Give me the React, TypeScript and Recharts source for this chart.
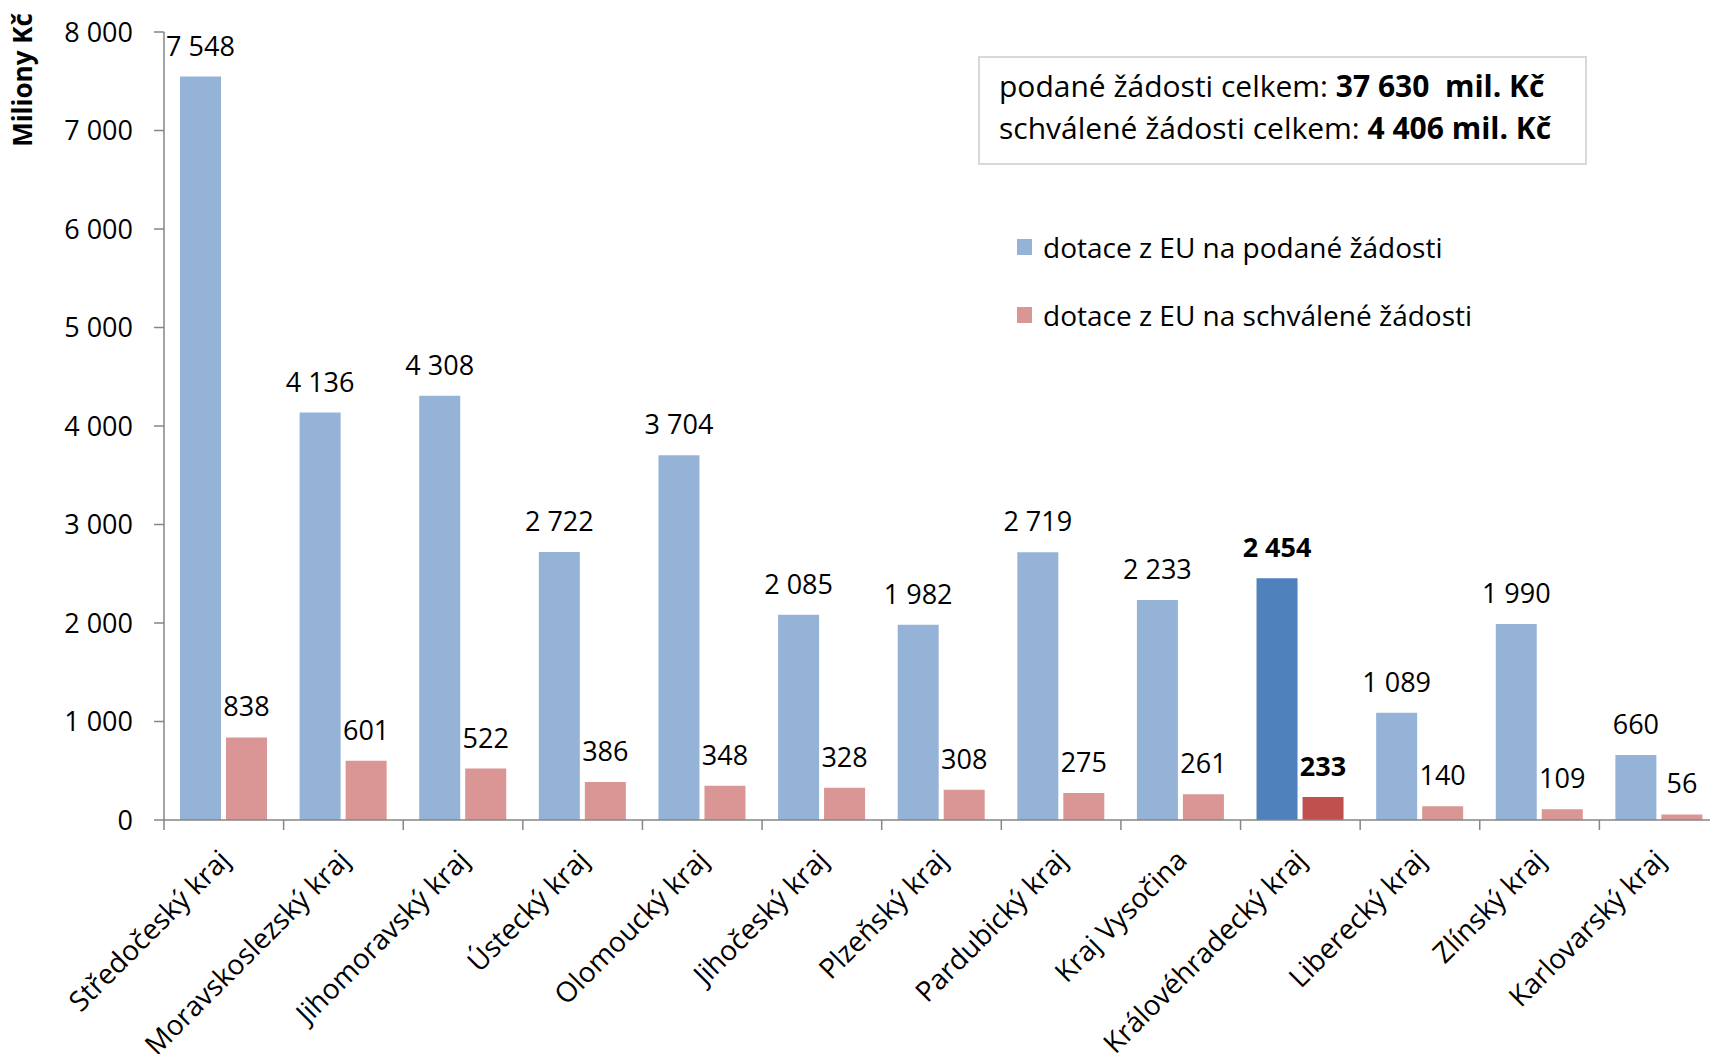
import { Bar, BarChart, Cell, LabelList, Legend, XAxis, YAxis } from 'recharts';

const regions = [
  'Středočeský kraj',
  'Moravskoslezský kraj',
  'Jihomoravský kraj',
  'Ústecký kraj',
  'Olomoucký kraj',
  'Jihočeský kraj',
  'Plzeňský kraj',
  'Pardubický kraj',
  'Kraj Vysočina',
  'Královéhradecký kraj',
  'Liberecký kraj',
  'Zlínský kraj',
  'Karlovarský kraj',
];
const submitted = [7548, 4136, 4308, 2722, 3704, 2085, 1982, 2719, 2233, 2454, 1089, 1990, 660];
const approved = [838, 601, 522, 386, 348, 328, 308, 275, 261, 233, 140, 109, 56];
const yTicks = [0, 1000, 2000, 3000, 4000, 5000, 6000, 7000, 8000];
const highlighted = 'Královéhradecký kraj';
const seriesNames = ['dotace z EU na podané žádosti', 'dotace z EU na schválené žádosti'];
const totalSubmitted = 37630;
const totalApproved = 4406;

const FONT = "'Open Sans', sans-serif";
const AXIS = '#868686';
const BLUE = '#95B3D7';
const RED = '#D99694';
const BLUE_HI = '#4F81BD';
const RED_HI = '#C0504D';

const data = regions.map((region, i) => ({ region, submitted: submitted[i], approved: approved[i] }));

const fmt = (v: number) => String(v).replace(/\B(?=(\d{3})+(?!\d))/g, ' ');

function RegionTick({ x, y, payload, index, width, visibleTicksCount }: any) {
  const half = payload?.offset || width / visibleTicksCount / 2;
  const last = index === visibleTicksCount - 1;
  const ax = x + 8;
  const ay = y + 42;
  return (
    <g>
      <line x1={x - half} x2={x - half} y1={y} y2={y + 10} stroke={AXIS} strokeWidth={1.5} />
      {last && <line x1={x + half} x2={x + half} y1={y} y2={y + 10} stroke={AXIS} strokeWidth={1.5} />}
      <text
        x={ax}
        y={ay}
        transform={`rotate(-45 ${ax} ${ay})`}
        textAnchor="end"
        fontFamily={FONT}
        fontSize={28}
        fill="#000"
      >
        {payload.value}
      </text>
    </g>
  );
}

function ValueLabel({ x, y, width, value, index }: any) {
  const bold = regions[index] === highlighted;
  return (
    <text
      x={Number(x) + Number(width) / 2}
      y={Number(y) - 21}
      textAnchor="middle"
      fontFamily={FONT}
      fontSize={27}
      fontWeight={bold ? 700 : 400}
      fill="#000"
    >
      {fmt(value)}
    </text>
  );
}

function YTitle() {
  return (
    <text
      x={32}
      y={80}
      transform="rotate(-90 32 80)"
      textAnchor="middle"
      fontFamily={FONT}
      fontSize={26}
      fontWeight={700}
      fill="#000"
    >
      Miliony Kč
    </text>
  );
}

function LegendContent({ payload }: any) {
  return (
    <div style={{ fontFamily: FONT, fontSize: 28, color: '#000' }}>
      {(payload || []).map((p: any, i: number) => (
        <div
          key={i}
          style={{ display: 'flex', alignItems: 'center', height: 34, marginTop: i ? 34 : 0, whiteSpace: 'nowrap' }}
        >
          <span style={{ display: 'inline-block', width: 15, height: 16, background: p.color, marginRight: 11 }} />
          {p.value}
        </div>
      ))}
    </div>
  );
}

export default function App() {
  return (
    <div
      style={{
        position: 'absolute',
        left: 0,
        top: 0,
        width: 1710,
        height: 1054,
        overflow: 'hidden',
        background: '#fff',
      }}
    >
      <BarChart
        width={1720}
        height={1054}
        data={data}
        margin={{ top: 32, right: 1, left: 0, bottom: 0 }}
        barSize={41}
        barGap={5}
      >
        <XAxis
          dataKey="region"
          interval={0}
          height={234}
          tickLine={false}
          tickSize={0}
          tickMargin={0}
          axisLine={{ stroke: AXIS, strokeWidth: 1.5 }}
          tick={<RegionTick />}
        />
        <YAxis
          width={164}
          domain={[0, 8000]}
          ticks={yTicks}
          interval={0}
          tickSize={10}
          tickMargin={21}
          axisLine={{ stroke: AXIS, strokeWidth: 1.5 }}
          tickLine={{ stroke: AXIS, strokeWidth: 1.5 }}
          tick={{ fontFamily: FONT, fontSize: 27, fill: '#000' }}
          tickFormatter={fmt}
          label={YTitle}
        />
        <Legend
          layout="vertical"
          align="center"
          verticalAlign="middle"
          content={LegendContent}
          wrapperStyle={{ left: 1017, top: 229.5, width: 500 }}
        />
        <Bar dataKey="submitted" name={seriesNames[0]} fill={BLUE} isAnimationActive={false}>
          {data.map((d) => (
            <Cell key={d.region} fill={d.region === highlighted ? BLUE_HI : BLUE} />
          ))}
          <LabelList dataKey="submitted" content={ValueLabel} />
        </Bar>
        <Bar dataKey="approved" name={seriesNames[1]} fill={RED} isAnimationActive={false}>
          {data.map((d) => (
            <Cell key={d.region} fill={d.region === highlighted ? RED_HI : RED} />
          ))}
          <LabelList dataKey="approved" content={ValueLabel} />
        </Bar>
      </BarChart>
      <div
        style={{
          position: 'absolute',
          left: 978,
          top: 56,
          width: 609,
          height: 109,
          boxSizing: 'border-box',
          border: '2px solid #d9d9d9',
          background: '#fff',
          padding: '7px 0 0 19px',
          fontFamily: FONT,
          fontSize: 30,
          lineHeight: '41.5px',
          color: '#000',
          whiteSpace: 'pre',
        }}
      >
        <div>
          podané žádosti celkem: <b>{fmt(totalSubmitted)}  mil. Kč</b>
        </div>
        <div>
          schválené žádosti celkem: <b>{fmt(totalApproved)} mil. Kč</b>
        </div>
      </div>
    </div>
  );
}
